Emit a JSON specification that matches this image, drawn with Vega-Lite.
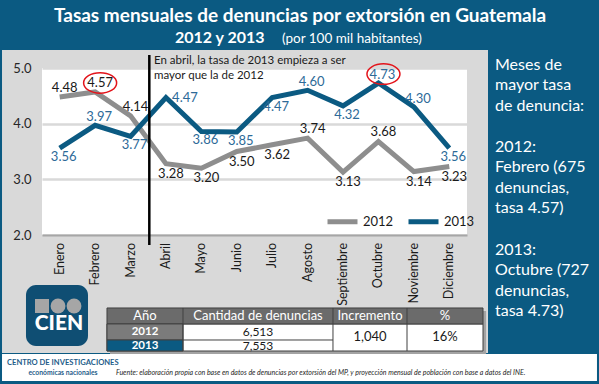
{
  "$schema": "https://vega.github.io/schema/vega-lite/v6.json",
  "width": 425,
  "height": 167,
  "autosize": {"type": "none"},
  "padding": {"left": 42, "top": 68, "right": 132, "bottom": 149},
  "background": "#d9d9d9",
  "config": {
    "view": {"fill": "white", "stroke": null},
    "font": "Lato",
    "text": {"font": "Lato"}
  },
  "datasets": {
    "tasas": [
      {"mes": 1, "nombre": "Enero", "anio": "2012", "tasa": 4.48},
      {"mes": 2, "nombre": "Febrero", "anio": "2012", "tasa": 4.57},
      {"mes": 3, "nombre": "Marzo", "anio": "2012", "tasa": 4.14},
      {"mes": 4, "nombre": "Abril", "anio": "2012", "tasa": 3.28},
      {"mes": 5, "nombre": "Mayo", "anio": "2012", "tasa": 3.20},
      {"mes": 6, "nombre": "Junio", "anio": "2012", "tasa": 3.50},
      {"mes": 7, "nombre": "Julio", "anio": "2012", "tasa": 3.62},
      {"mes": 8, "nombre": "Agosto", "anio": "2012", "tasa": 3.74},
      {"mes": 9, "nombre": "Septiembre", "anio": "2012", "tasa": 3.13},
      {"mes": 10, "nombre": "Octubre", "anio": "2012", "tasa": 3.68},
      {"mes": 11, "nombre": "Noviembre", "anio": "2012", "tasa": 3.14},
      {"mes": 12, "nombre": "Diciembre", "anio": "2012", "tasa": 3.23},
      {"mes": 1, "nombre": "Enero", "anio": "2013", "tasa": 3.56},
      {"mes": 2, "nombre": "Febrero", "anio": "2013", "tasa": 3.97},
      {"mes": 3, "nombre": "Marzo", "anio": "2013", "tasa": 3.77},
      {"mes": 4, "nombre": "Abril", "anio": "2013", "tasa": 4.47},
      {"mes": 5, "nombre": "Mayo", "anio": "2013", "tasa": 3.86},
      {"mes": 6, "nombre": "Junio", "anio": "2013", "tasa": 3.85},
      {"mes": 7, "nombre": "Julio", "anio": "2013", "tasa": 4.47},
      {"mes": 8, "nombre": "Agosto", "anio": "2013", "tasa": 4.60},
      {"mes": 9, "nombre": "Septiembre", "anio": "2013", "tasa": 4.32},
      {"mes": 10, "nombre": "Octubre", "anio": "2013", "tasa": 4.73},
      {"mes": 11, "nombre": "Noviembre", "anio": "2013", "tasa": 4.30},
      {"mes": 12, "nombre": "Diciembre", "anio": "2013", "tasa": 3.56}
    ],
    "uno": [{}]
  },
  "layer": [
    {
      "data": {"name": "tasas"},
      "mark": {"type": "line", "strokeWidth": 5},
      "encoding": {
        "x": {
          "field": "mes", "type": "quantitative",
          "scale": {"domain": [0.5, 12.5], "nice": false, "zero": false},
          "axis": {
            "values": [1, 2, 3, 4, 5, 6, 7, 8, 9, 10, 11, 12],
            "labels": false, "grid": false, "ticks": false,
            "domain": true, "domainColor": "#a6a6a6", "domainWidth": 2, "title": null
          }
        },
        "y": {
          "field": "tasa", "type": "quantitative",
          "scale": {"domain": [2, 5], "nice": false, "zero": false},
          "axis": {
            "values": [2, 2.5, 3, 3.5, 4, 4.5, 5], "format": ".1f",
            "grid": true, "gridColor": "#d9d9d9", "gridWidth": 2.5,
            "domain": false, "ticks": false, "labelFont": "Lato",
            "labelFontSize": 13, "labelColor": "#262626", "labelPadding": 11, "title": null
          }
        },
        "color": {
          "field": "anio", "type": "nominal",
          "scale": {"domain": ["2012", "2013"], "range": ["#8e8e8e", "#0b5a82"]},
          "legend": {
            "orient": "none", "legendX": 283, "legendY": 136, "direction": "horizontal",
            "title": null, "symbolType": "stroke", "symbolStrokeWidth": 5, "symbolSize": 900,
            "labelFont": "Lato", "labelFontSize": 13, "labelColor": "#1a1a1a",
            "columnPadding": 4, "labelOffset": 3
          }
        }
      }
    },
    {
      "data": {"name": "tasas"},
      "transform": [{"filter": "datum.anio == '2012'"}],
      "mark": {"type": "text", "angle": 270, "align": "right", "baseline": "middle", "dx": -8, "fontSize": 12.5, "color": "#1a1a1a"},
      "encoding": {"x": {"field": "mes", "type": "quantitative"}, "y": {"datum": 2}, "text": {"field": "nombre"}}
    },
    {
      "data": {"name": "tasas"},
      "transform": [{"filter": "datum.anio == '2012' && indexof([1,2,3,8,10], datum.mes) >= 0"}],
      "mark": {"type": "text", "dx": 5, "dy": -9, "fontSize": 13, "color": "#1a1a1a"},
      "encoding": {"x": {"field": "mes", "type": "quantitative"}, "y": {"field": "tasa", "type": "quantitative"}, "text": {"field": "tasa", "format": ".2f"}}
    },
    {
      "data": {"name": "tasas"},
      "transform": [{"filter": "datum.anio == '2012' && indexof([1,2,3,8,10], datum.mes) < 0"}],
      "mark": {"type": "text", "dx": 5, "dy": 10, "fontSize": 13, "color": "#1a1a1a"},
      "encoding": {"x": {"field": "mes", "type": "quantitative"}, "y": {"field": "tasa", "type": "quantitative"}, "text": {"field": "tasa", "format": ".2f"}}
    },
    {
      "data": {"name": "tasas"},
      "transform": [{"filter": "datum.anio == '2013' && indexof([2,8,10,11], datum.mes) >= 0"}],
      "mark": {"type": "text", "dx": 4, "dy": -8, "fontSize": 13, "color": "#2d6a98"},
      "encoding": {"x": {"field": "mes", "type": "quantitative"}, "y": {"field": "tasa", "type": "quantitative"}, "text": {"field": "tasa", "format": ".2f"}}
    },
    {
      "data": {"name": "tasas"},
      "transform": [{"filter": "datum.anio == '2013' && indexof([1,3,5,6,7,9,12], datum.mes) >= 0"}],
      "mark": {"type": "text", "dx": 4, "dy": 9, "fontSize": 13, "color": "#2d6a98"},
      "encoding": {"x": {"field": "mes", "type": "quantitative"}, "y": {"field": "tasa", "type": "quantitative"}, "text": {"field": "tasa", "format": ".2f"}}
    },
    {
      "data": {"name": "tasas"},
      "transform": [{"filter": "datum.anio == '2013' && datum.mes == 4"}],
      "mark": {"type": "text", "dx": 19, "dy": 0, "fontSize": 13, "color": "#2d6a98"},
      "encoding": {"x": {"field": "mes", "type": "quantitative"}, "y": {"field": "tasa", "type": "quantitative"}, "text": {"field": "tasa", "format": ".2f"}}
    },
    {
      "data": {"name": "tasas"},
      "transform": [
        {"joinaggregate": [{"op": "max", "field": "tasa", "as": "maxima"}], "groupby": ["anio"]},
        {"filter": "datum.tasa == datum.maxima"}
      ],
      "mark": {"type": "point", "shape": "M -1 0 A 1 0.62 0 1 0 1 0 A 1 0.62 0 1 0 -1 0 Z", "size": 1089, "filled": false, "stroke": "#e3141b", "strokeWidth": 1.5, "opacity": 1, "xOffset": 5, "yOffset": -9},
      "encoding": {"x": {"field": "mes", "type": "quantitative"}, "y": {"field": "tasa", "type": "quantitative"}}
    },
    {
      "data": {"name": "uno"},
      "mark": {"type": "rule", "color": "black", "strokeWidth": 2.5},
      "encoding": {"x": {"datum": 3.53}, "y": {"datum": 5.234}, "y2": {"datum": 1.82}}
    },
    {
      "data": {"name": "uno"},
      "mark": {"type": "text", "text": "En abril, la tasa de 2013 empieza a ser\nmayor que la de 2012", "lineBreak": "\n", "lineHeight": 15, "align": "left", "baseline": "middle", "fontSize": 11.5, "color": "#1a1a1a"},
      "encoding": {"x": {"datum": 3.662}, "y": {"datum": 5.117}}
    },
    {
      "data": {"name": "uno"},
      "mark": {"type": "rect", "color": "#0b5a82"},
      "encoding": {"x": {"datum": -1}, "x2": {"datum": 17}, "y": {"datum": 5.323}, "y2": {"datum": 7}}
    },
    {
      "data": {"name": "uno"},
      "mark": {"type": "rect", "color": "#0b5a82"},
      "encoding": {"x": {"datum": 13.093}, "x2": {"datum": 17}, "y": {"datum": -1}, "y2": {"datum": 5.323}}
    },
    {
      "data": {"name": "uno"},
      "mark": {"type": "rect", "color": "#0b5a82"},
      "encoding": {"x": {"datum": -1}, "x2": {"datum": -0.629}, "y": {"datum": -1}, "y2": {"datum": 5.323}}
    },
    {
      "data": {"name": "uno"},
      "mark": {"type": "rect", "color": "#0b5a82"},
      "encoding": {"x": {"datum": -1}, "x2": {"datum": 17}, "y": {"datum": -1}, "y2": {"datum": -0.12}}
    },
    {
      "data": {"name": "uno"},
      "mark": {"type": "rect", "color": "white"},
      "encoding": {"x": {"datum": -0.629}, "x2": {"datum": 16.17}, "y": {"datum": -0.623}, "y2": {"datum": -0.138}}
    },
    {
      "data": {"name": "uno"},
      "mark": {"type": "text", "text": "Tasas mensuales de denuncias por extorsión en Guatemala", "align": "center", "baseline": "alphabetic", "fontSize": 19, "fontWeight": "bold", "color": "white"},
      "encoding": {"x": {"datum": 7.785}, "y": {"datum": 5.826}}
    },
    {
      "data": {"name": "uno"},
      "mark": {"type": "text", "text": "2012 y 2013", "align": "left", "baseline": "middle", "fontSize": 16, "fontWeight": "bold", "color": "white"},
      "encoding": {"x": {"datum": 4.255}, "y": {"datum": 5.539}}
    },
    {
      "data": {"name": "uno"},
      "mark": {"type": "text", "text": "(por 100 mil habitantes)", "align": "left", "baseline": "middle", "fontSize": 13.5, "color": "white"},
      "encoding": {"x": {"datum": 7.276}, "y": {"datum": 5.521}}
    },
    {
      "data": {"name": "uno"},
      "mark": {"type": "text", "text": "Meses de\nmayor tasa\nde denuncia:", "lineBreak": "\n", "lineHeight": 20.4, "align": "left", "baseline": "middle", "fontSize": 16, "color": "white"},
      "encoding": {"x": {"datum": 13.29}, "y": {"datum": 5.054}}
    },
    {
      "data": {"name": "uno"},
      "mark": {"type": "text", "text": "2012:\nFebrero (675\ndenuncias,\ntasa 4.57)", "lineBreak": "\n", "lineHeight": 20.4, "align": "left", "baseline": "middle", "fontSize": 16, "color": "white"},
      "encoding": {"x": {"datum": 13.29}, "y": {"datum": 3.581}}
    },
    {
      "data": {"name": "uno"},
      "mark": {"type": "text", "text": "2013:\nOctubre (727\ndenuncias,\ntasa 4.73)", "lineBreak": "\n", "lineHeight": 20.4, "align": "left", "baseline": "middle", "fontSize": 16, "color": "white"},
      "encoding": {"x": {"datum": 13.29}, "y": {"datum": 1.7305}}
    },
    {
      "data": {"name": "uno"},
      "mark": {"type": "rect", "color": "#0f4e73", "cornerRadius": 10},
      "encoding": {"x": {"datum": 0.048}, "x2": {"datum": 1.799}, "y": {"datum": 0.006}, "y2": {"datum": 1.102}}
    },
    {
      "data": {"name": "uno"},
      "mark": {"type": "point", "shape": "square", "filled": true, "size": 196, "color": "#a6a6a6", "opacity": 1},
      "encoding": {"x": {"datum": 0.5}, "y": {"datum": 0.725}}
    },
    {
      "data": {"name": "uno"},
      "mark": {"type": "point", "shape": "circle", "filled": true, "size": 220, "color": "#a6a6a6", "opacity": 1},
      "encoding": {"x": {"datum": 0.952}, "y": {"datum": 0.725}}
    },
    {
      "data": {"name": "uno"},
      "mark": {"type": "point", "shape": "circle", "filled": true, "size": 220, "color": "#a6a6a6", "opacity": 1},
      "encoding": {"x": {"datum": 1.404}, "y": {"datum": 0.725}}
    },
    {
      "data": {"name": "uno"},
      "mark": {"type": "text", "text": "CIEN", "align": "center", "baseline": "middle", "fontSize": 21, "fontWeight": 900, "color": "white"},
      "encoding": {"x": {"datum": 0.98}, "y": {"datum": 0.401}}
    },
    {
      "data": {"name": "uno"},
      "mark": {"type": "rect", "color": "#a3a3a3"},
      "encoding": {"x": {"datum": 2.42}, "x2": {"datum": 13.04}, "y": {"datum": -0.138}, "y2": {"datum": 0.635}}
    },
    {
      "data": {"name": "uno"},
      "mark": {"type": "rect", "fill": "white", "stroke": "#404040", "strokeWidth": 1},
      "encoding": {"x": {"datum": 2.335}, "x2": {"datum": 12.952}, "y": {"datum": -0.084}, "y2": {"datum": 0.402}}
    },
    {
      "data": {"name": "uno"},
      "mark": {"type": "rect", "fill": "#6b6b6b", "stroke": "#404040", "strokeWidth": 1},
      "encoding": {"x": {"datum": 2.335}, "x2": {"datum": 12.952}, "y": {"datum": 0.402}, "y2": {"datum": 0.689}}
    },
    {
      "data": {"name": "uno"},
      "mark": {"type": "rect", "fill": "#7b7b7b", "stroke": "#404040", "strokeWidth": 1},
      "encoding": {"x": {"datum": 2.335}, "x2": {"datum": 4.481}, "y": {"datum": 0.114}, "y2": {"datum": 0.402}}
    },
    {
      "data": {"name": "uno"},
      "mark": {"type": "rect", "fill": "#0b5a82", "stroke": "#404040", "strokeWidth": 1},
      "encoding": {"x": {"datum": 2.335}, "x2": {"datum": 4.481}, "y": {"datum": -0.084}, "y2": {"datum": 0.114}}
    },
    {
      "data": {"name": "uno"},
      "mark": {"type": "rule", "color": "#404040", "strokeWidth": 1},
      "encoding": {"x": {"datum": 4.481}, "y": {"datum": -0.084}, "y2": {"datum": 0.689}}
    },
    {
      "data": {"name": "uno"},
      "mark": {"type": "rule", "color": "#404040", "strokeWidth": 1},
      "encoding": {"x": {"datum": 8.716}, "y": {"datum": -0.084}, "y2": {"datum": 0.689}}
    },
    {
      "data": {"name": "uno"},
      "mark": {"type": "rule", "color": "#404040", "strokeWidth": 1},
      "encoding": {"x": {"datum": 10.806}, "y": {"datum": -0.084}, "y2": {"datum": 0.689}}
    },
    {
      "data": {"name": "uno"},
      "mark": {"type": "rule", "color": "#404040", "strokeWidth": 1},
      "encoding": {"x": {"datum": 4.481}, "x2": {"datum": 8.716}, "y": {"datum": 0.114}}
    },
    {
      "data": {"name": "uno"},
      "mark": {"type": "text", "text": "Año", "align": "center", "baseline": "middle", "fontSize": 13, "color": "white"},
      "encoding": {"x": {"datum": 3.408}, "y": {"datum": 0.545}}
    },
    {
      "data": {"name": "uno"},
      "mark": {"type": "text", "text": "Cantidad de denuncias", "align": "center", "baseline": "middle", "fontSize": 13, "color": "white"},
      "encoding": {"x": {"datum": 6.599}, "y": {"datum": 0.545}}
    },
    {
      "data": {"name": "uno"},
      "mark": {"type": "text", "text": "Incremento", "align": "center", "baseline": "middle", "fontSize": 13, "color": "white"},
      "encoding": {"x": {"datum": 9.761}, "y": {"datum": 0.545}}
    },
    {
      "data": {"name": "uno"},
      "mark": {"type": "text", "text": "%", "align": "center", "baseline": "middle", "fontSize": 13, "color": "white"},
      "encoding": {"x": {"datum": 11.879}, "y": {"datum": 0.545}}
    },
    {
      "data": {"name": "uno"},
      "mark": {"type": "text", "text": "2012", "align": "center", "baseline": "middle", "fontSize": 11.5, "fontWeight": "bold", "color": "white"},
      "encoding": {"x": {"datum": 3.408}, "y": {"datum": 0.2575}}
    },
    {
      "data": {"name": "uno"},
      "mark": {"type": "text", "text": "2013", "align": "center", "baseline": "middle", "fontSize": 11.5, "fontWeight": "bold", "color": "white"},
      "encoding": {"x": {"datum": 3.408}, "y": {"datum": 0.006}}
    },
    {
      "data": {"name": "uno"},
      "mark": {"type": "text", "text": "6,513", "align": "center", "baseline": "middle", "fontSize": 12, "color": "#1a1a1a"},
      "encoding": {"x": {"datum": 6.599}, "y": {"datum": 0.2575}}
    },
    {
      "data": {"name": "uno"},
      "mark": {"type": "text", "text": "7,553", "align": "center", "baseline": "middle", "fontSize": 12, "color": "#1a1a1a"},
      "encoding": {"x": {"datum": 6.599}, "y": {"datum": 0.006}}
    },
    {
      "data": {"name": "uno"},
      "mark": {"type": "text", "text": "1,040", "align": "center", "baseline": "middle", "fontSize": 13, "color": "#1a1a1a"},
      "encoding": {"x": {"datum": 9.761}, "y": {"datum": 0.168}}
    },
    {
      "data": {"name": "uno"},
      "mark": {"type": "text", "text": "16%", "align": "center", "baseline": "middle", "fontSize": 13, "color": "#1a1a1a"},
      "encoding": {"x": {"datum": 11.879}, "y": {"datum": 0.168}}
    },
    {
      "data": {"name": "uno"},
      "mark": {"type": "text", "text": "CENTRO DE INVESTIGACIONES", "align": "left", "baseline": "middle", "fontSize": 7.6, "fontWeight": "bold", "color": "#1f5d8a"},
      "encoding": {"x": {"datum": -0.488}, "y": {"datum": -0.299}}
    },
    {
      "data": {"name": "uno"},
      "mark": {"type": "text", "text": "económicas nacionales", "align": "center", "baseline": "middle", "fontSize": 6.8, "fontWeight": "bold", "color": "#1f5d8a"},
      "encoding": {"x": {"datum": 1.093}, "y": {"datum": -0.479}}
    },
    {
      "data": {"name": "uno"},
      "mark": {"type": "text", "text": "Fuente: elaboración propia con base en datos de denuncias por extorsión del MP, y proyección mensual de población con base a datos del INE.", "align": "left", "baseline": "middle", "fontSize": 7, "fontStyle": "italic", "color": "#262626"},
      "encoding": {"x": {"datum": 2.589}, "y": {"datum": -0.479}}
    }
  ]
}
